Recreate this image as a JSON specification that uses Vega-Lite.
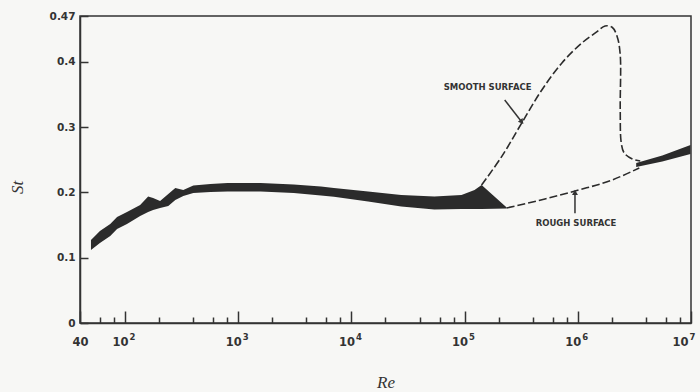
{
  "$schema": "https://vega.github.io/schema/vega-lite/v6.json",
  "width": 611,
  "height": 307,
  "autosize": {"type": "none"},
  "padding": {"left": 80, "top": 16, "right": 9, "bottom": 69},
  "background": "#f7f7f5",
  "config": {
    "view": {"stroke": "#333333", "strokeWidth": 1.5},
    "axis": {
      "domainColor": "#333333",
      "domainWidth": 1.5,
      "tickColor": "#333333",
      "tickWidth": 1.5,
      "grid": false,
      "labelFont": "DejaVu Sans",
      "labelFontWeight": "bold",
      "labelFontSize": 10.5,
      "labelColor": "#333333",
      "titleFont": "Liberation Serif",
      "titleFontStyle": "italic",
      "titleFontWeight": "normal",
      "titleFontSize": 17,
      "titleColor": "#333333"
    }
  },
  "datasets": {
    "band_low": [
      {"re": 50, "top": 0.1271, "bottom": 0.1118},
      {"re": 60, "top": 0.1409, "bottom": 0.1225},
      {"re": 74, "top": 0.1516, "bottom": 0.1332},
      {"re": 85, "top": 0.1623, "bottom": 0.1440},
      {"re": 104, "top": 0.1700, "bottom": 0.1516},
      {"re": 136, "top": 0.1807, "bottom": 0.1639},
      {"re": 160, "top": 0.1937, "bottom": 0.1700},
      {"re": 177, "top": 0.1914, "bottom": 0.1731},
      {"re": 204, "top": 0.1868, "bottom": 0.1761},
      {"re": 241, "top": 0.1976, "bottom": 0.1792},
      {"re": 278, "top": 0.2067, "bottom": 0.1884},
      {"re": 327, "top": 0.2037, "bottom": 0.1945},
      {"re": 401, "top": 0.2106, "bottom": 0.1991},
      {"re": 568, "top": 0.2129, "bottom": 0.2006},
      {"re": 804, "top": 0.2144, "bottom": 0.2014},
      {"re": 1578, "top": 0.2144, "bottom": 0.2014},
      {"re": 3095, "top": 0.2121, "bottom": 0.1991},
      {"re": 5375, "top": 0.2090, "bottom": 0.1953},
      {"re": 7010, "top": 0.2067, "bottom": 0.1934},
      {"re": 14030, "top": 0.2014, "bottom": 0.1861},
      {"re": 27540, "top": 0.1960, "bottom": 0.1784},
      {"re": 54050, "top": 0.1937, "bottom": 0.1738},
      {"re": 93860, "top": 0.1960, "bottom": 0.1746},
      {"re": 122400, "top": 0.2037, "bottom": 0.1746},
      {"re": 141250, "top": 0.2113, "bottom": 0.1746},
      {"re": 235400, "top": 0.1769, "bottom": 0.1753}
    ],
    "band_high": [
      {"re": 3280000, "top": 0.2450, "bottom": 0.2389},
      {"re": 5580000, "top": 0.2565, "bottom": 0.2473},
      {"re": 9900000, "top": 0.2726, "bottom": 0.2588}
    ],
    "smooth": [
      {"i": 1, "re": 141250, "st": 0.2113},
      {"i": 2, "re": 212500, "st": 0.2547},
      {"i": 3, "re": 320000, "st": 0.3063},
      {"i": 4, "re": 481000, "st": 0.3568},
      {"i": 5, "re": 724000, "st": 0.3982},
      {"i": 6, "re": 1089000, "st": 0.4288},
      {"i": 7, "re": 1480000, "st": 0.4461},
      {"i": 8, "re": 1742000, "st": 0.4548},
      {"i": 9, "re": 2010000, "st": 0.4528},
      {"i": 10, "re": 2228000, "st": 0.4384},
      {"i": 11, "re": 2370000, "st": 0.4104},
      {"i": 12, "re": 2370000, "st": 0.3262},
      {"i": 13, "re": 2420000, "st": 0.2757},
      {"i": 14, "re": 2570000, "st": 0.2603},
      {"i": 15, "re": 3030000, "st": 0.2511},
      {"i": 16, "re": 3560000, "st": 0.2481}
    ],
    "rough": [
      {"re": 235400, "st": 0.1761},
      {"re": 512000, "st": 0.1899},
      {"re": 1025000, "st": 0.2037},
      {"re": 2010000, "st": 0.2190},
      {"re": 3490000, "st": 0.2374}
    ],
    "notes": [
      {"label": "SMOOTH SURFACE", "re": 159600, "st": 0.3614, "re_from": 226000, "st_from": 0.3415, "re_to": 320000, "st_to": 0.3078},
      {"label": "ROUGH SURFACE", "re": 964000, "st": 0.1531, "re_from": 944000, "st_from": 0.168, "re_to": 944000, "st_to": 0.2}
    ],
    "minor_ticks": [
      {"re": 60}, {"re": 80},
      {"re": 200}, {"re": 400}, {"re": 600}, {"re": 800},
      {"re": 2000}, {"re": 4000}, {"re": 6000}, {"re": 8000},
      {"re": 20000}, {"re": 40000}, {"re": 60000}, {"re": 80000},
      {"re": 200000}, {"re": 400000}, {"re": 600000}, {"re": 800000},
      {"re": 2000000}, {"re": 4000000}, {"re": 6000000}, {"re": 8000000}
    ]
  },
  "resolve": {"axis": {"x": "independent", "y": "independent"}},
  "layer": [
    {
      "data": {"name": "band_low"},
      "mark": {"type": "area", "color": "#2b2b2b", "interpolate": "linear"},
      "encoding": {
        "x": {
          "field": "re", "type": "quantitative",
          "scale": {"type": "log", "domain": [40, 10000000], "nice": false},
          "axis": {
            "orient": "bottom",
            "values": [40, 100, 1000, 10000, 100000, 1000000, 10000000],
            "labelExpr": "datum.value < 50 ? '40' : '10'",
            "labelFontSize": 11.5,
            "labelAlign": {"expr": "datum.value < 50 ? 'center' : 'right'"},
            "labelOffset": {"expr": "datum.value > 5000000 ? -3 : (datum.value < 50 ? 0 : 3)"},
            "tickSize": -12,
            "labelPadding": 25,
            "labelFlush": false,
            "labelOverlap": false,
            "title": "Re",
            "titleY": 64,
            "titleBaseline": "alphabetic"
          }
        },
        "y": {
          "field": "top", "type": "quantitative",
          "scale": {"domain": [0, 0.47], "nice": false, "zero": false},
          "axis": {
            "orient": "left",
            "values": [0, 0.1, 0.2, 0.3, 0.4, 0.47],
            "labelExpr": "format(datum.value, '.2~f')",
            "tickSize": -8,
            "labelPadding": 13,
            "labelFlush": false,
            "labelOverlap": false,
            "title": "St",
            "titleX": -63,
            "titleY": 171,
            "titleAlign": "center",
            "titleBaseline": "middle"
          }
        },
        "y2": {"field": "bottom"}
      }
    },
    {
      "data": {"name": "minor_ticks"},
      "mark": {"type": "point", "opacity": 0},
      "encoding": {
        "x": {
          "field": "re", "type": "quantitative",
          "scale": {"type": "log", "domain": [40, 10000000], "nice": false},
          "axis": {
            "orient": "bottom",
            "values": [60, 80, 200, 400, 600, 800, 2000, 4000, 6000, 8000, 20000, 40000, 60000, 80000, 200000, 400000, 600000, 800000, 2000000, 4000000, 6000000, 8000000],
            "tickSize": -6,
            "labels": false,
            "domain": false,
            "title": null
          }
        },
        "y": {"datum": 0, "type": "quantitative", "axis": null}
      }
    },
    {
      "data": {"name": "minor_ticks"},
      "mark": {"type": "point", "opacity": 0},
      "encoding": {
        "x": {
          "field": "re", "type": "quantitative",
          "scale": {"type": "log", "domain": [40, 10000000], "nice": false},
          "axis": {
            "orient": "bottom",
            "values": [100, 1000, 10000, 100000, 1000000, 10000000],
            "labelExpr": "'' + round(log(datum.value) / LN10)",
            "labelFontSize": 8.5,
            "labelAlign": "left",
            "labelOffset": {"expr": "datum.value > 5000000 ? -2 : 4"},
            "ticks": false,
            "labelPadding": 9,
            "labelFlush": false,
            "labelOverlap": false,
            "domain": false,
            "title": null
          }
        },
        "y": {"datum": 0, "type": "quantitative", "axis": null}
      }
    },
    {
      "data": {"name": "band_high"},
      "mark": {"type": "area", "color": "#2b2b2b", "interpolate": "linear"},
      "encoding": {
        "x": {"field": "re", "type": "quantitative", "axis": null},
        "y": {"field": "top", "type": "quantitative", "axis": null},
        "y2": {"field": "bottom"}
      }
    },
    {
      "data": {"name": "smooth"},
      "mark": {"type": "line", "color": "#2b2b2b", "strokeWidth": 1.6, "strokeDash": [8, 3], "interpolate": "catmull-rom"},
      "encoding": {
        "x": {"field": "re", "type": "quantitative", "axis": null},
        "y": {"field": "st", "type": "quantitative", "axis": null},
        "order": {"field": "i", "type": "quantitative"}
      }
    },
    {
      "data": {"name": "rough"},
      "mark": {"type": "line", "color": "#2b2b2b", "strokeWidth": 1.6, "strokeDash": [8, 3], "interpolate": "monotone"},
      "encoding": {
        "x": {"field": "re", "type": "quantitative", "axis": null},
        "y": {"field": "st", "type": "quantitative", "axis": null}
      }
    },
    {
      "data": {"name": "notes"},
      "mark": {"type": "text", "font": "DejaVu Sans", "fontWeight": "bold", "fontSize": 8.5, "color": "#333333", "align": "center", "baseline": "middle"},
      "encoding": {
        "x": {"field": "re", "type": "quantitative", "axis": null},
        "y": {"field": "st", "type": "quantitative", "axis": null},
        "text": {"field": "label"}
      }
    },
    {
      "data": {"name": "notes"},
      "mark": {"type": "rule", "color": "#333333", "strokeWidth": 1.5},
      "encoding": {
        "x": {"field": "re_from", "type": "quantitative", "axis": null},
        "y": {"field": "st_from", "type": "quantitative", "axis": null},
        "x2": {"field": "re_to"},
        "y2": {"field": "st_to"}
      }
    },
    {
      "data": {"name": "notes"},
      "transform": [{"filter": "datum.label == 'SMOOTH SURFACE'"}],
      "mark": {"type": "point", "shape": "triangle-up", "filled": true, "color": "#333333", "size": 35, "angle": 142, "opacity": 1},
      "encoding": {
        "x": {"field": "re_to", "type": "quantitative", "axis": null},
        "y": {"field": "st_to", "type": "quantitative", "axis": null}
      }
    },
    {
      "data": {"name": "notes"},
      "transform": [{"filter": "datum.label == 'ROUGH SURFACE'"}],
      "mark": {"type": "point", "shape": "triangle-up", "filled": true, "color": "#333333", "size": 35, "angle": 0, "opacity": 1},
      "encoding": {
        "x": {"field": "re_to", "type": "quantitative", "axis": null},
        "y": {"field": "st_to", "type": "quantitative", "axis": null}
      }
    }
  ]
}
